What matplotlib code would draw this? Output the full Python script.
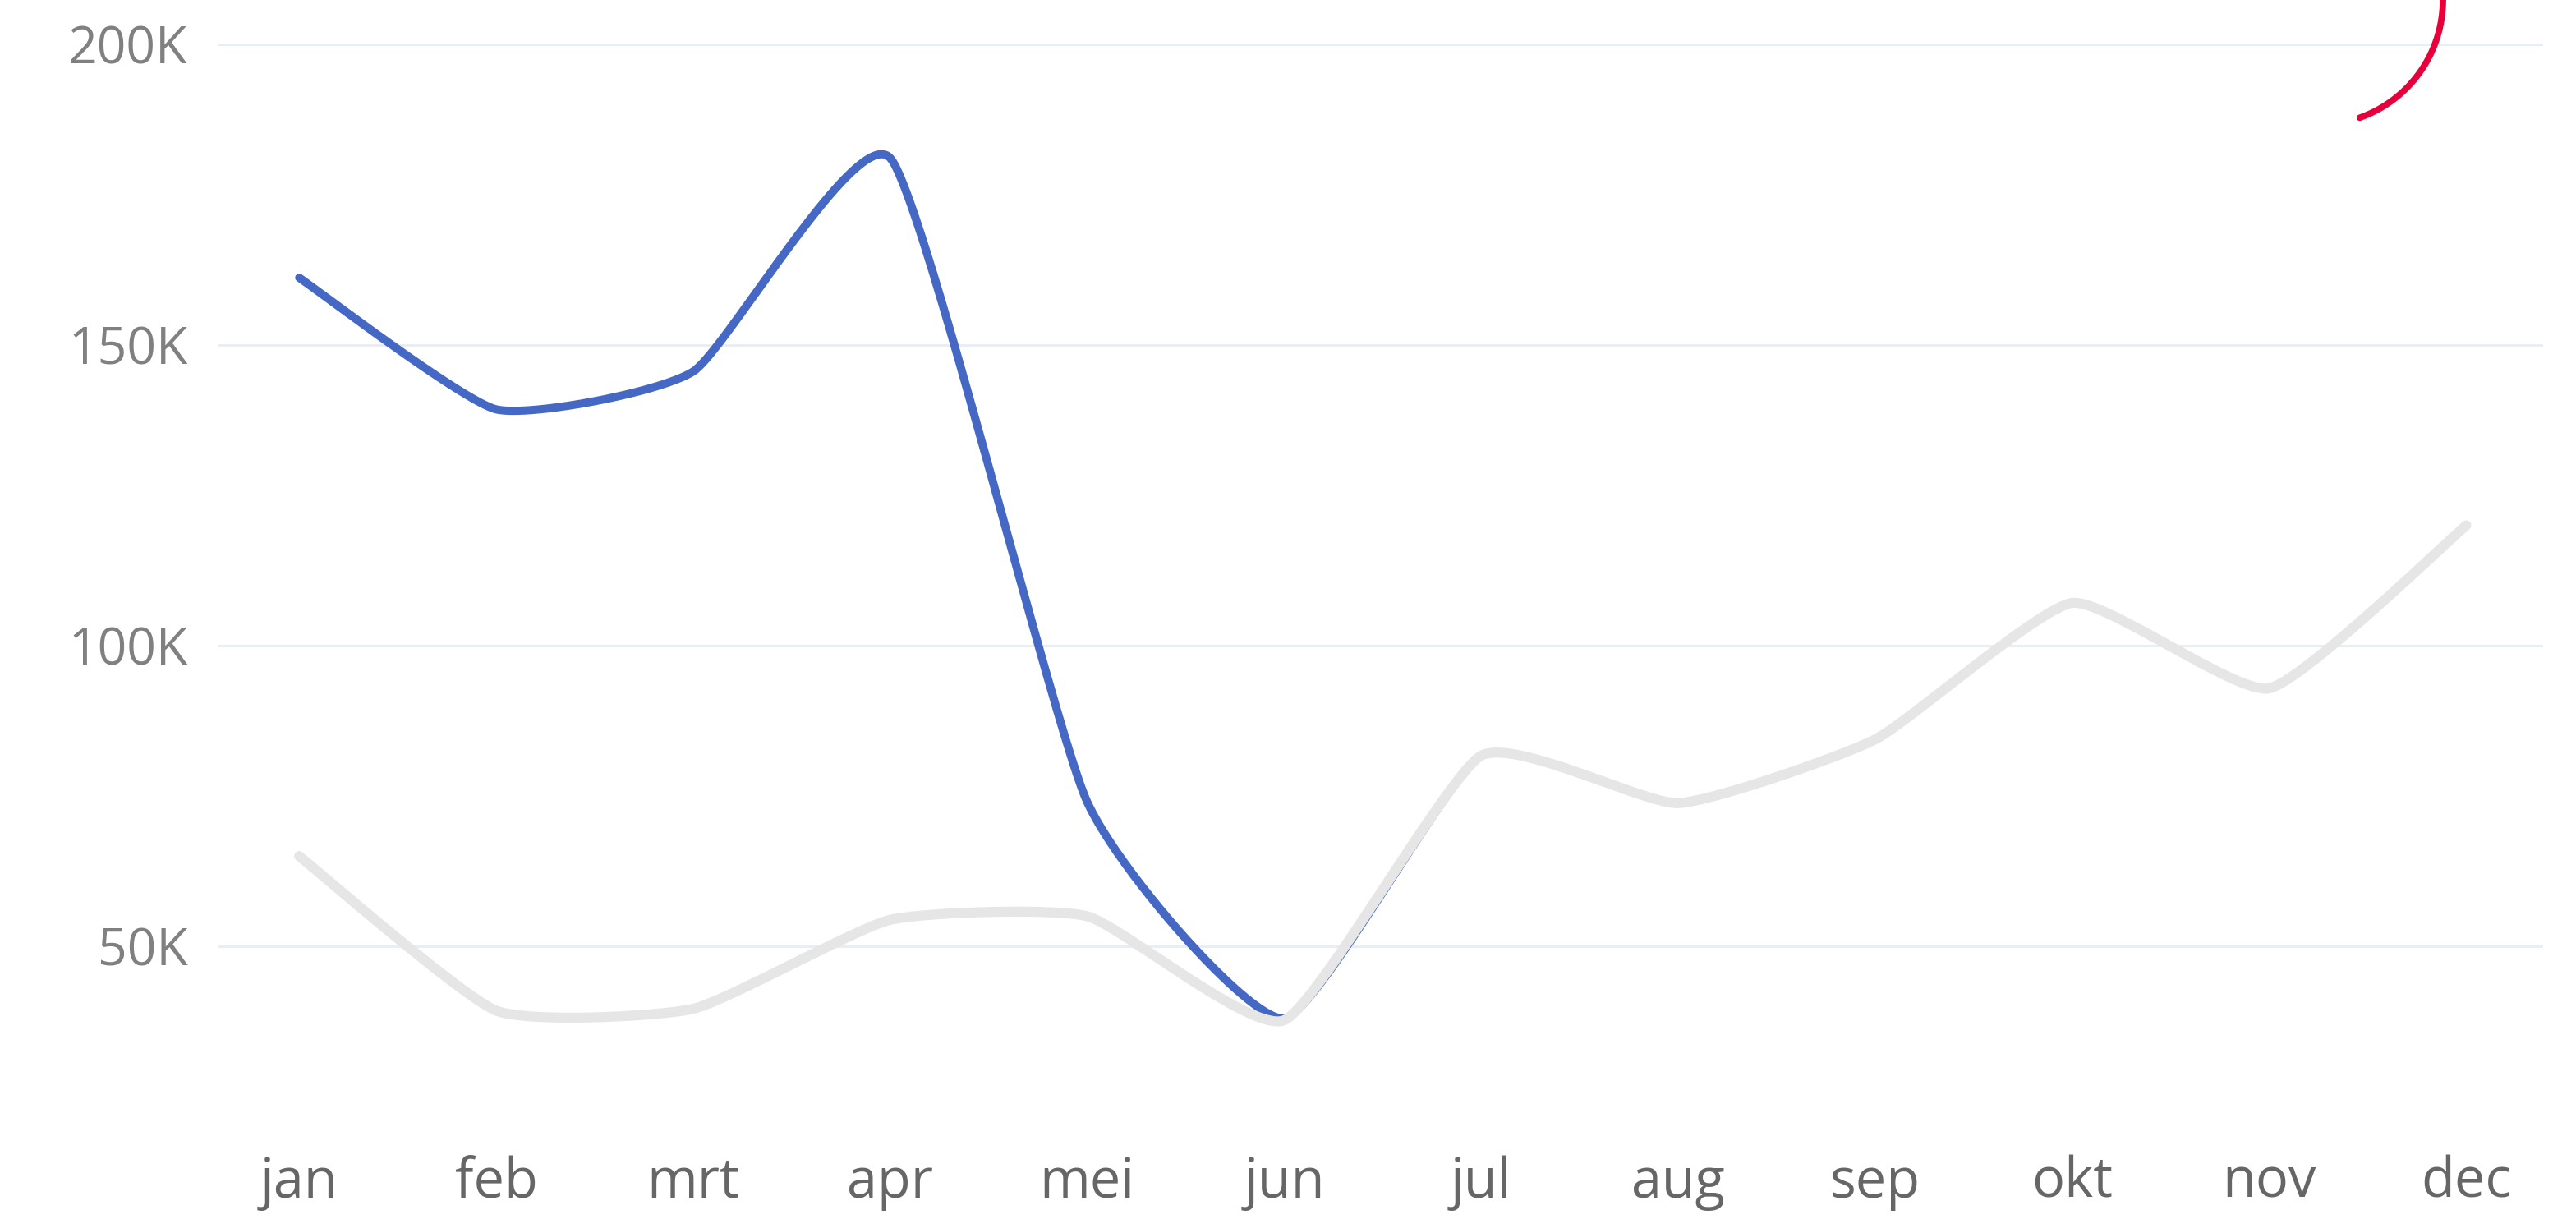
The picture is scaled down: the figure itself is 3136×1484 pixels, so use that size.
import numpy as np
import matplotlib
matplotlib.use("Agg")
import matplotlib.pyplot as plt
from matplotlib.lines import Line2D

# months on the x axis
months = ['jan', 'feb', 'mrt', 'apr', 'mei', 'jun', 'jul', 'aug', 'sep', 'okt', 'nov', 'dec']

# blue series (this year) and grey series (comparison)
blue_values = [161200, 139300, 145600, 181100, 74000, 38000, 81700, 73800, 84400, 107100, 92900, 120000]
grey_values = [65000, 39300, 39600, 54400, 55000, 37700, 81700, 73800, 84400, 107100, 92900, 120000]

y_ticks = [50000, 100000, 150000, 200000]
y_tick_labels = ['50K', '100K', '150K', '200K']


def smooth_curve(xs, ys, tension=0.5, n=80):
    # cardinal spline through the points (rounded corners, straight-ish segments)
    xs = np.asarray(xs, float)
    ys = np.asarray(ys, float)
    px = np.concatenate(([xs[0]], xs, [xs[-1]]))
    py = np.concatenate(([ys[0]], ys, [ys[-1]]))
    k = (1 - tension) / 2
    tx = k * (px[2:] - px[:-2])
    ty = k * (py[2:] - py[:-2])
    u = np.linspace(0, 1, n)
    h00 = 2 * u**3 - 3 * u**2 + 1
    h10 = u**3 - 2 * u**2 + u
    h01 = -2 * u**3 + 3 * u**2
    h11 = u**3 - u**2
    out_x, out_y = [], []
    for i in range(len(xs) - 1):
        out_x.extend(h00 * xs[i] + h10 * tx[i] + h01 * xs[i + 1] + h11 * tx[i + 1])
        out_y.extend(h00 * ys[i] + h10 * ty[i] + h01 * ys[i + 1] + h11 * ty[i + 1])
    return np.array(out_x), np.array(out_y)


plt.rcParams['font.family'] = ['Open Sans', 'DejaVu Sans']

fig = plt.figure(figsize=(15.68, 7.42), dpi=200)
ax = fig.add_axes([0.0848, 0.0701, 0.9024, 0.9299])

x = np.arange(len(months))

bx, by = smooth_curve(x, blue_values)
gx, gy = smooth_curve(x, grey_values)
ax.plot(bx, by, color='#4468C4', lw=3.6, solid_capstyle='round', solid_joinstyle='round', zorder=3)
ax.plot(gx, gy, color='#E6E6E6', lw=4.4, solid_capstyle='round', solid_joinstyle='round', zorder=4)

ax.set_xlim(-0.41, 11.39)
ax.set_ylim(18858, 207377)

ax.set_yticks(y_ticks)
ax.set_yticklabels(y_tick_labels)
ax.set_xticks(x)
ax.set_xticklabels(months)

ax.tick_params(axis='y', length=0, pad=13.5, labelsize=22.5, labelcolor='#808080')
ax.tick_params(axis='x', length=0, pad=9.5, labelsize=24, labelcolor='#666666')

ax.grid(axis='y', color='#E6EEF7', lw=1.1, solid_capstyle='round')
ax.set_axisbelow(True)
for sp in ax.spines.values():
    sp.set_visible(False)

# red hand-drawn arc at top right corner (figure pixel space)
W, H = 3136, 1484
r = 152
ang = np.radians(np.linspace(-70.5, 20, 100))
arc_x = (2822 + r * np.cos(ang)) / W
arc_y = 1 - (0 - r * np.sin(ang)) / H
fig.add_artist(Line2D(arc_x, arc_y, transform=fig.transFigure, color='#E8003A',
                      lw=2.8, solid_capstyle='round'))

fig.savefig('out.png', dpi=200, facecolor='white')
